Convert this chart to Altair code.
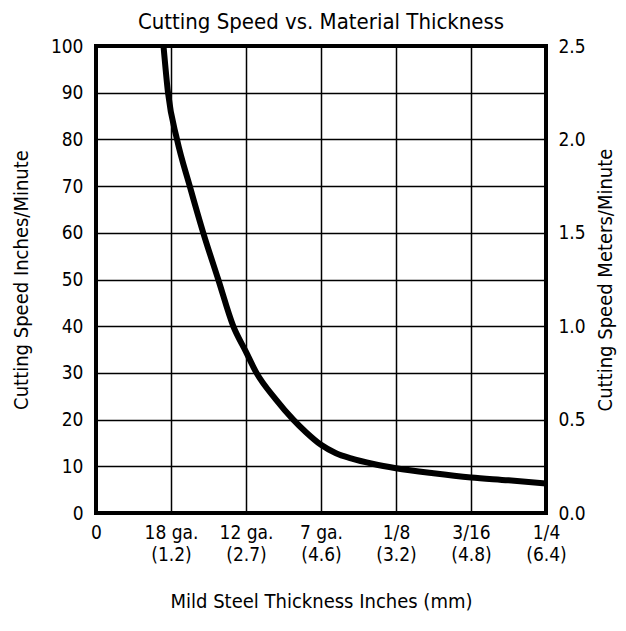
import altair as alt
import pandas as pd

# Data
thickness_pos = [0.9, 0.96, 1.08, 1.25, 1.43, 1.63, 1.83, 2.0, 2.14, 2.4, 2.63, 2.8, 3.0, 3.2, 3.4, 3.7, 4.0, 4.5, 5.0, 5.5, 6.0]
speed_ipm = [100, 90, 80, 70, 60, 50, 40, 34.5, 30, 24.3, 20, 17.3, 14.6, 12.8, 11.7, 10.5, 9.6, 8.5, 7.6, 7.0, 6.3]
x_tick_labels = ["0", "18 ga.|(1.2)", "12 ga.|(2.7)", "7 ga.|(4.6)", "1/8|(3.2)", "3/16|(4.8)", "1/4|(6.4)"]
left_ticks = [0, 10, 20, 30, 40, 50, 60, 70, 80, 90, 100]
right_ticks = [0.0, 0.5, 1.0, 1.5, 2.0, 2.5]

df = pd.DataFrame({"x": thickness_pos, "speed": speed_ipm})

FONT = "DejaVu Sans Condensed, sans-serif"
label_array = "[" + ",".join("'" + s + "'" for s in x_tick_labels) + "]"

x_enc = alt.X(
    "x:Q",
    scale=alt.Scale(domain=[0, 6], nice=False, zero=False),
    axis=alt.Axis(
        values=list(range(7)),
        labelExpr="split(" + label_array + "[datum.value], '|')",
        title="Mild Steel Thickness Inches (mm)",
        grid=True, gridColor="black", gridWidth=1.5, gridOpacity=1,
        domain=False, ticks=False,
        labelFont=FONT, labelFontSize=19, labelColor="black",
        labelPadding=10, labelLineHeight=22, labelBaseline="top",
        labelFlush=False,
        titleFont=FONT, titleFontSize=20, titleFontWeight="normal", titleColor="black",
        titlePadding=27,
    ),
)

line = alt.Chart(df).mark_line(
    color="black", strokeWidth=6, interpolate="monotone", clip=True
).encode(
    x=x_enc,
    y=alt.Y(
        "speed:Q",
        scale=alt.Scale(domain=[0, 100], nice=False),
        axis=alt.Axis(
            values=left_ticks, orient="left",
            title="Cutting Speed Inches/Minute",
            grid=True, gridColor="black", gridWidth=1.5, gridOpacity=1,
            domain=False, ticks=False,
            labelFont=FONT, labelFontSize=19, labelColor="black", labelPadding=13,
            titleFont=FONT, titleFontSize=20, titleFontWeight="normal", titleColor="black",
            titlePadding=19,
        ),
    ),
)

right = alt.Chart(df).transform_calculate(
    mpm="datum.speed / 40"
).mark_line(opacity=0).encode(
    x=alt.X("x:Q"),
    y=alt.Y(
        "mpm:Q",
        scale=alt.Scale(domain=[0, 2.5], nice=False),
        axis=alt.Axis(
            values=right_ticks, orient="right", format=".1f",
            title="Cutting Speed Meters/Minute", titleAngle=270, titleBaseline="top",
            grid=False, domain=False, ticks=False,
            labelFont=FONT, labelFontSize=19, labelColor="black", labelPadding=12,
            titleFont=FONT, titleFontSize=20, titleFontWeight="normal", titleColor="black",
            titlePadding=10,
        ),
    ),
)

chart = alt.layer(line, right).resolve_scale(y="independent").properties(
    width=450,
    height=467,
    title=alt.TitleParams(
        "Cutting Speed vs. Material Thickness",
        font=FONT, fontSize=22, fontWeight="normal", color="black", offset=3,
    ),
    autosize=alt.AutoSizeParams(type="none"),
    padding={"left": 88, "top": 38, "right": 72, "bottom": 110},
).configure_view(stroke="black", strokeWidth=4)

chart.save("out.html", embed_options={"renderer": "svg", "actions": False})
